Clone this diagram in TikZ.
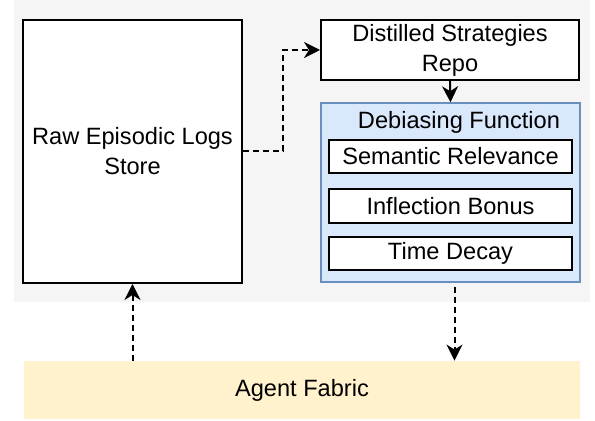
\documentclass[tikz,border=0pt]{standalone}
\usepackage{fontspec}
\setmainfont{Liberation Sans}
\usepackage{tikz}
\usetikzlibrary{arrows.meta}
\definecolor{panelgray}{HTML}{F5F5F5}
\definecolor{debiasblue}{HTML}{DAE8FC}
\definecolor{debiasline}{HTML}{6C8EBF}
\definecolor{fabricyellow}{HTML}{FFF2CC}

\begin{document}
\begin{tikzpicture}[x=0.5pt, y=-0.5pt,
        every node/.style={font=\fontsize{11.8}{15}\selectfont, align=center, inner sep=0pt},
        whitebox/.style={draw, fill=white, line width=1pt},
        innerbox/.style={whitebox, minimum width=121.5pt, minimum height=16.75pt},
        flow/.style={-{Stealth[length=8pt, width=8pt, inset=2.5pt]}, line width=1pt},
        dashflow/.style={flow, dash pattern=on 3pt off 2pt}]
        \useasboundingbox (0,0) rectangle (595,421);

        % Memory panel
        \fill[panelgray] (14,0) rectangle (590,302);
        \node[whitebox, minimum width=109.5pt, minimum height=131.5pt] (raw) at (132.5, 151.5) {Raw Episodic Logs\\Store};
        \node[whitebox, minimum width=129pt, minimum height=30pt] (distilled) at (450, 50) {Distilled Strategies\\Repo};
        \node[draw=debiasline, fill=debiasblue, line width=0.75pt, minimum width=129.5pt, minimum height=89.5pt] (debias) at (450.5, 192.5) {};
        \node (debiastitle) at (459, 122) {Debiasing Function};
        \node[innerbox] (semantic) at (450.5, 156.5) {Semantic Relevance};
        \node[innerbox] (inflection) at (450.5, 206) {Inflection Bonus};
        \node[innerbox] (decay) at (450.5, 253.5) {Time Decay};

        % Agent layer
        \node[fill=fabricyellow, minimum width=278pt, minimum height=29pt] (agent) at (302, 390) {Agent Fabric};

        \draw[dashflow] (raw.east) -- ++(40,0) |- (distilled.west);
        \draw[flow] (distilled.south) -- (debias.north);
        \draw[dashflow] (debias.south) ++(4,4) coordinate (dstart) -- (dstart |- agent.north);
        \draw[dashflow] (raw.south |- agent.north) -- (raw.south);
    \end{tikzpicture}
\end{document}
